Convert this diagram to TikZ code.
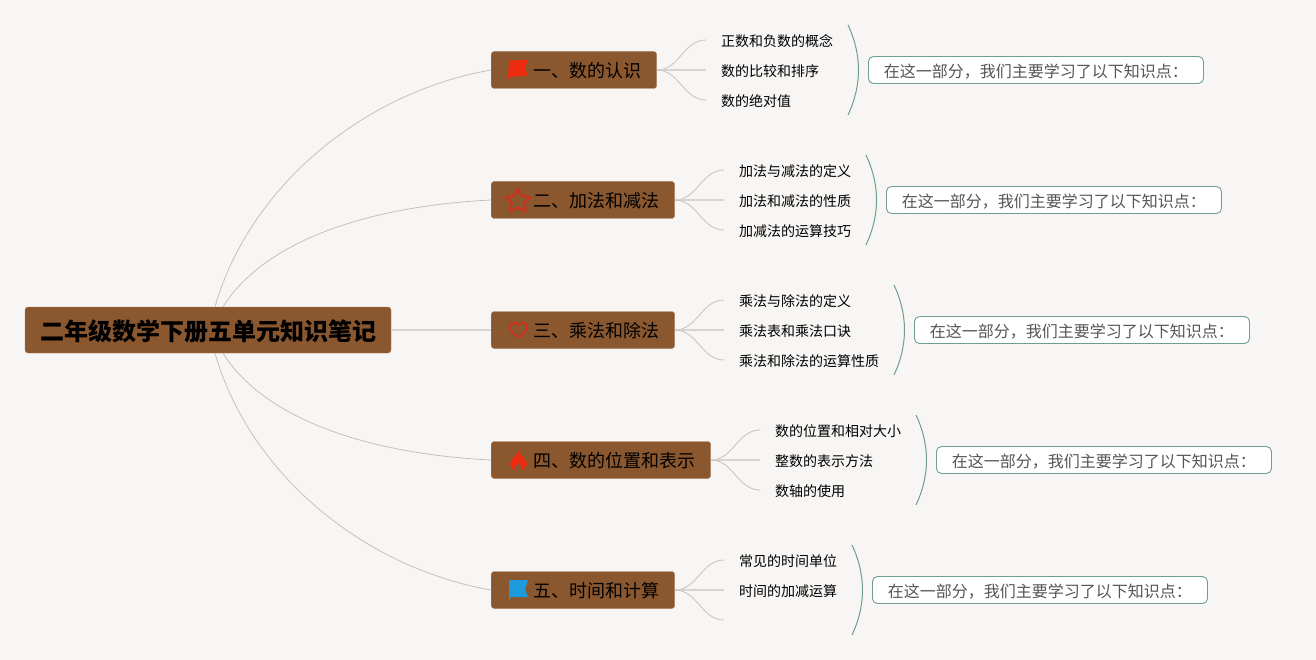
\documentclass[tikz,border=0pt]{standalone}
\usepackage{fontspec}
\setmainfont{Noto Sans CJK SC}
\usetikzlibrary{positioning,calc}
\definecolor{paperbg}{RGB}{248,246,244}
\definecolor{topicbrown}{RGB}{138,87,47}
\definecolor{topicedge}{RGB}{170,125,90}
\definecolor{branchgray}{RGB}{196,193,189}
\definecolor{midgray}{RGB}{216,212,208}
\definecolor{notegreen}{RGB}{110,158,143}
\definecolor{notetext}{RGB}{85,85,85}
\definecolor{markred}{RGB}{238,44,16}
\definecolor{markdark}{RGB}{208,48,28}
\definecolor{markblue}{RGB}{28,154,220}
\tikzset{
  rootbox/.style={fill=topicbrown,draw=topicedge,rounded corners=3,inner xsep=15,inner ysep=0,
    minimum height=46,text height=22.6pt,text depth=1.4pt,font=\fontsize{24}{24}\selectfont\bfseries,text=black},
  topicbox/.style={fill=topicbrown,draw=topicedge,rounded corners=3,inner xsep=15.5,inner ysep=0,
    minimum height=37,anchor=west,text height=17pt,text depth=1.3pt,font=\fontsize{18}{18}\selectfont,text=black},
  itembox/.style={anchor=west,inner xsep=15,inner ysep=0,minimum height=20,
    text height=14pt,text depth=1.4pt,font=\fontsize{14}{14}\selectfont,text=black},
  notebox/.style={fill=white,draw=notegreen,line width=0.9,rounded corners=5,anchor=west,inner xsep=15.5,inner ysep=0,
    minimum height=27,text height=15.5pt,text depth=1.3pt,font=\fontsize{16}{16}\selectfont,text=notetext},
  trunk/.style={draw=branchgray,line width=0.8},
  twig/.style={draw=branchgray,line width=0.8},
  midline/.style={draw=midgray,line width=1.5},
  brace/.style={draw=notegreen,line width=1},
}
\newcommand{\iconspace}{\hspace*{26.5pt}}
\begin{document}
\begin{tikzpicture}[x=1pt,y=-1pt]
    \fill[paperbg] (0,0) rectangle (1316,660);
    \useasboundingbox (0,0) rectangle (1316,660);

    % centre and main topics
    \node[rootbox] (root) at (208,330) {二年级数学下册五单元知识笔记};
    \node[topicbox] (topic1) at (491,70) {\iconspace 一、数的认识};
    \node[topicbox] (topic2) at (491,200) {\iconspace 二、加法和减法};
    \node[topicbox] (topic3) at (491,330) {\iconspace 三、乘法和除法};
    \node[topicbox] (topic4) at (491,460) {\iconspace 四、数的位置和表示};
    \node[topicbox] (topic5) at (491,590) {\iconspace 五、时间和计算};

    % centre to topics
    \coordinate (rootn1) at ($(root.north)+(7,0)$);
    \coordinate (rootn2) at ($(root.north)+(15,0)$);
    \coordinate (roots1) at ($(root.south)+(15,0)$);
    \coordinate (roots2) at ($(root.south)+(7,0)$);
    \draw[trunk] (rootn1) .. controls (250,185) and (365,92) .. (topic1.west);
    \draw[trunk] (rootn2) .. controls (265,240) and (370,206) .. (topic2.west);
    \draw[midline] (root.east) -- (topic3.west);
    \draw[trunk] (roots1) .. controls (265,420) and (370,454) .. (topic4.west);
    \draw[trunk] (roots2) .. controls (250,475) and (365,568) .. (topic5.west);

    % first topic
    \node[itembox] (item11) at (706,40) {正数和负数的概念};
    \node[itembox] (item12) at (706,70) {数的比较和排序};
    \node[itembox] (item13) at (706,100) {数的绝对值};
    \draw[twig] (topic1.east) to[out=0,in=180] (item11.west);
    \draw[midline] (topic1.east) -- (item12.west);
    \draw[twig] (topic1.east) to[out=0,in=180] (item13.west);
    \node[notebox] (note1) at (868,70) {在这一部分，我们主要学习了以下知识点：};
    \coordinate (brace1a) at ($(note1.west)+(-20,-45)$);
    \coordinate (brace1b) at ($(note1.west)+(-20,45)$);
    \draw[brace] (brace1a) .. controls +(14,30) and +(14,-30) .. (brace1b);

    % second topic
    \node[itembox] (item21) at (724,170) {加法与减法的定义};
    \node[itembox] (item22) at (724,200) {加法和减法的性质};
    \node[itembox] (item23) at (724,230) {加减法的运算技巧};
    \draw[twig] (topic2.east) to[out=0,in=180] (item21.west);
    \draw[midline] (topic2.east) -- (item22.west);
    \draw[twig] (topic2.east) to[out=0,in=180] (item23.west);
    \node[notebox] (note2) at (886,200) {在这一部分，我们主要学习了以下知识点：};
    \coordinate (brace2a) at ($(note2.west)+(-20,-45)$);
    \coordinate (brace2b) at ($(note2.west)+(-20,45)$);
    \draw[brace] (brace2a) .. controls +(14,30) and +(14,-30) .. (brace2b);

    % third topic
    \node[itembox] (item31) at (724,300) {乘法与除法的定义};
    \node[itembox] (item32) at (724,330) {乘法表和乘法口诀};
    \node[itembox] (item33) at (724,360) {乘法和除法的运算性质};
    \draw[twig] (topic3.east) to[out=0,in=180] (item31.west);
    \draw[midline] (topic3.east) -- (item32.west);
    \draw[twig] (topic3.east) to[out=0,in=180] (item33.west);
    \node[notebox] (note3) at (914,330) {在这一部分，我们主要学习了以下知识点：};
    \coordinate (brace3a) at ($(note3.west)+(-20,-45)$);
    \coordinate (brace3b) at ($(note3.west)+(-20,45)$);
    \draw[brace] (brace3a) .. controls +(14,30) and +(14,-30) .. (brace3b);

    % fourth topic
    \node[itembox] (item41) at (760,430) {数的位置和相对大小};
    \node[itembox] (item42) at (760,460) {整数的表示方法};
    \node[itembox] (item43) at (760,490) {数轴的使用};
    \draw[twig] (topic4.east) to[out=0,in=180] (item41.west);
    \draw[midline] (topic4.east) -- (item42.west);
    \draw[twig] (topic4.east) to[out=0,in=180] (item43.west);
    \node[notebox] (note4) at (936,460) {在这一部分，我们主要学习了以下知识点：};
    \coordinate (brace4a) at ($(note4.west)+(-20,-45)$);
    \coordinate (brace4b) at ($(note4.west)+(-20,45)$);
    \draw[brace] (brace4a) .. controls +(14,30) and +(14,-30) .. (brace4b);

    % fifth topic, its third twig has no text
    \node[itembox] (item51) at (724,560) {常见的时间单位};
    \node[itembox] (item52) at (724,590) {时间的加减运算};
    \coordinate (item53) at (724,620);
    \draw[twig] (topic5.east) to[out=0,in=180] (item51.west);
    \draw[midline] (topic5.east) -- (item52.west);
    \draw[twig] (topic5.east) to[out=0,in=180] (item53);
    \node[notebox] (note5) at (872,590) {在这一部分，我们主要学习了以下知识点：};
    \coordinate (brace5a) at ($(note5.west)+(-20,-45)$);
    \coordinate (brace5b) at ($(note5.west)+(-20,45)$);
    \draw[brace] (brace5a) .. controls +(14,30) and +(14,-30) .. (brace5b);

    % topic marks
    \fill[markred] (509,60.5) -- (528,60) -- (525,68) -- (528,75.5) -- (510,77) -- (509,79) -- (508,79) -- cycle;
    \draw[markdark,line width=2,line join=round]
      (518,189) -- (521.8,195.7) -- (530,197.5) -- (524.2,203) -- (525.6,211)
      -- (518,207.5) -- (510.4,211) -- (511.8,203) -- (506,197.5) -- (514.2,195.7) -- cycle;
    \draw[markdark,line width=1.7,line join=round]
      (518.5,337.5) .. controls (513,333) and (510,330) .. (510,327)
      .. controls (510,322) and (516.5,321.5) .. (518.5,325.5)
      .. controls (520.5,321.5) and (527,322) .. (527,327)
      .. controls (527,330) and (524,333) .. (518.5,337.5) -- cycle;
    \fill[markred] (518.5,450) .. controls (519,455) and (527,459) .. (527,464)
      .. controls (527,467) and (525,469.5) .. (522,470)
      .. controls (523,467) and (520.5,465) .. (518.5,463)
      .. controls (516.5,465) and (514,467) .. (515,470)
      .. controls (512,469.5) and (510,467) .. (510,464)
      .. controls (510,459) and (517,456) .. (518.5,450) -- cycle;
    \fill[markblue] (509,580) -- (528,580) -- (525,589) -- (528,597) -- (510,597) -- (510,600) -- (509,600) -- cycle;
  \end{tikzpicture}
\end{document}
